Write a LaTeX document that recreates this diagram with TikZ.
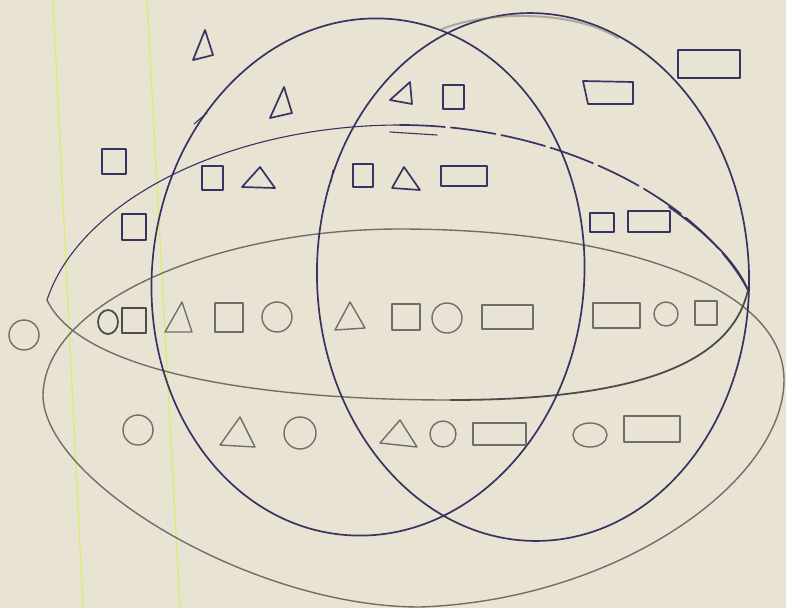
\documentclass[tikz,border=0pt]{standalone}
\definecolor{paper}{RGB}{232,227,211}
\definecolor{inkc}{RGB}{58,50,98}
\definecolor{pencilc}{RGB}{112,110,106}
\definecolor{darkpencil}{RGB}{78,76,74}
\definecolor{marginc}{RGB}{214,240,110}
\tikzset{
  ink/.style={draw=inkc, line width=1.7pt, line join=round, line cap=round},
  thinink/.style={draw=inkc, line width=1.1pt, line cap=round},
  pencil/.style={draw=pencilc, line width=1.4pt, line join=round, line cap=round},
  dpencil/.style={draw=darkpencil, line width=1.8pt, line join=round},
  margin/.style={draw=marginc, line width=1.2pt},
}
\begin{document}
\begin{tikzpicture}[x=1pt,y=-1pt]
\fill[paper] (0,0) rectangle (786,608);
\useasboundingbox (0,0) rectangle (786,608);
% margin lines
\draw[margin] (53,0) -- (83,608);
\draw[margin] (147,0) -- (180,608);

% lower horizontal ellipse (pencil)
\draw[pencil] (43,395) .. controls (45,300) and (220,229) .. (400,229)
  .. controls (600,229) and (784,280) .. (784,380)
  .. controls (784,480) and (620,600) .. (420,607)
  .. controls (250,607) and (43,480) .. (43,395) -- cycle;

% upper horizontal ellipse
\draw[thinink] (47,300) .. controls (80,200) and (230,125) .. (400,125);
\draw[ink, dash pattern=on 45pt off 6pt] (400,125) .. controls (560,125) and (700,200) .. (748,290);
\draw[ink] (669,207) .. controls (705,232) and (735,260) .. (748,290);
\draw[dpencil] (748,290) .. controls (730,370) and (620,400) .. (450,400);
\draw[pencil] (450,400) .. controls (250,400) and (80,370) .. (47,300);
\draw[thinink] (390,132) -- (437,135);

% left vertical ellipse (ink)
\draw[ink, rotate around={-6:(368,277)}] (368,277) ellipse[x radius=216, y radius=259];
% small ink ticks
\draw[thinink] (194,124) -- (207,113);
\draw[thinink] (333,170) -- (331,182);

% right vertical ellipse (ink)
\draw[ink, rotate around={2:(533,277)}] (533,277) ellipse[x radius=216, y radius=264];
% pencil trace on top of right ellipse
\draw[pencil, line width=2pt, opacity=0.5] (440,30) .. controls (480,12) and (570,8) .. (618,38);

% ---- ink shapes (upper part) ----
\draw[ink] (205,30) -- (193,60) -- (213,55) -- cycle;
\draw[ink] (284,87) -- (270,118) -- (292,113) -- cycle;
\draw[ink] (410,82) -- (390,100) -- (412,104) -- cycle;
\draw[ink] (443,85) rectangle (464,109);
\draw[ink] (102,149) rectangle (126,174);
\draw[ink] (122,214) rectangle (146,240);
\draw[ink] (202,166) rectangle (223,190);
\draw[ink] (260,167) -- (242,187) -- (275,188) -- cycle;
\draw[ink] (353,164) rectangle (373,187);
\draw[ink] (404,167) -- (392,188) -- (420,190) -- cycle;
\draw[ink] (441,166) rectangle (487,186);
\draw[ink] (678,50) rectangle (740,78);
\draw[ink] (583,81) -- (633,82) -- (633,104) -- (588,104) -- cycle;
\draw[ink] (590,213) rectangle (614,232);
\draw[ink] (628,211) rectangle (670,232);

% ---- pencil shapes, middle row ----
\draw[pencil] (24,335) circle[radius=15];
\draw[dpencil] (108,322) circle[x radius=10, y radius=12];
\draw[dpencil] (122,308) rectangle (146,333);
\draw[pencil] (182,302) -- (165,332) -- (192,332) -- cycle;
\draw[pencil] (215,303) rectangle (243,332);
\draw[pencil] (277,317) circle[radius=15];
\draw[pencil] (350,302) -- (335,330) -- (365,328) -- cycle;
\draw[pencil] (392,304) rectangle (420,330);
\draw[pencil] (447,318) circle[radius=15];
\draw[pencil] (482,305) rectangle (533,329);
\draw[pencil] (593,303) rectangle (640,328);
\draw[pencil] (666,314) circle[x radius=12, y radius=12];
\draw[pencil] (695,301) rectangle (717,325);

% ---- pencil shapes, lower row ----
\draw[pencil] (138,430) circle[radius=15];
\draw[pencil] (240,417) -- (220,445) -- (255,447) -- cycle;
\draw[pencil] (300,433) circle[radius=16];
\draw[pencil] (400,420) -- (380,443) -- (417,447) -- cycle;
\draw[pencil] (443,434) circle[radius=13];
\draw[pencil] (473,423) rectangle (526,445);
\draw[pencil] (590,435) circle[x radius=17, y radius=12];
\draw[pencil] (624,416) rectangle (680,442);
\end{tikzpicture}
\end{document}
